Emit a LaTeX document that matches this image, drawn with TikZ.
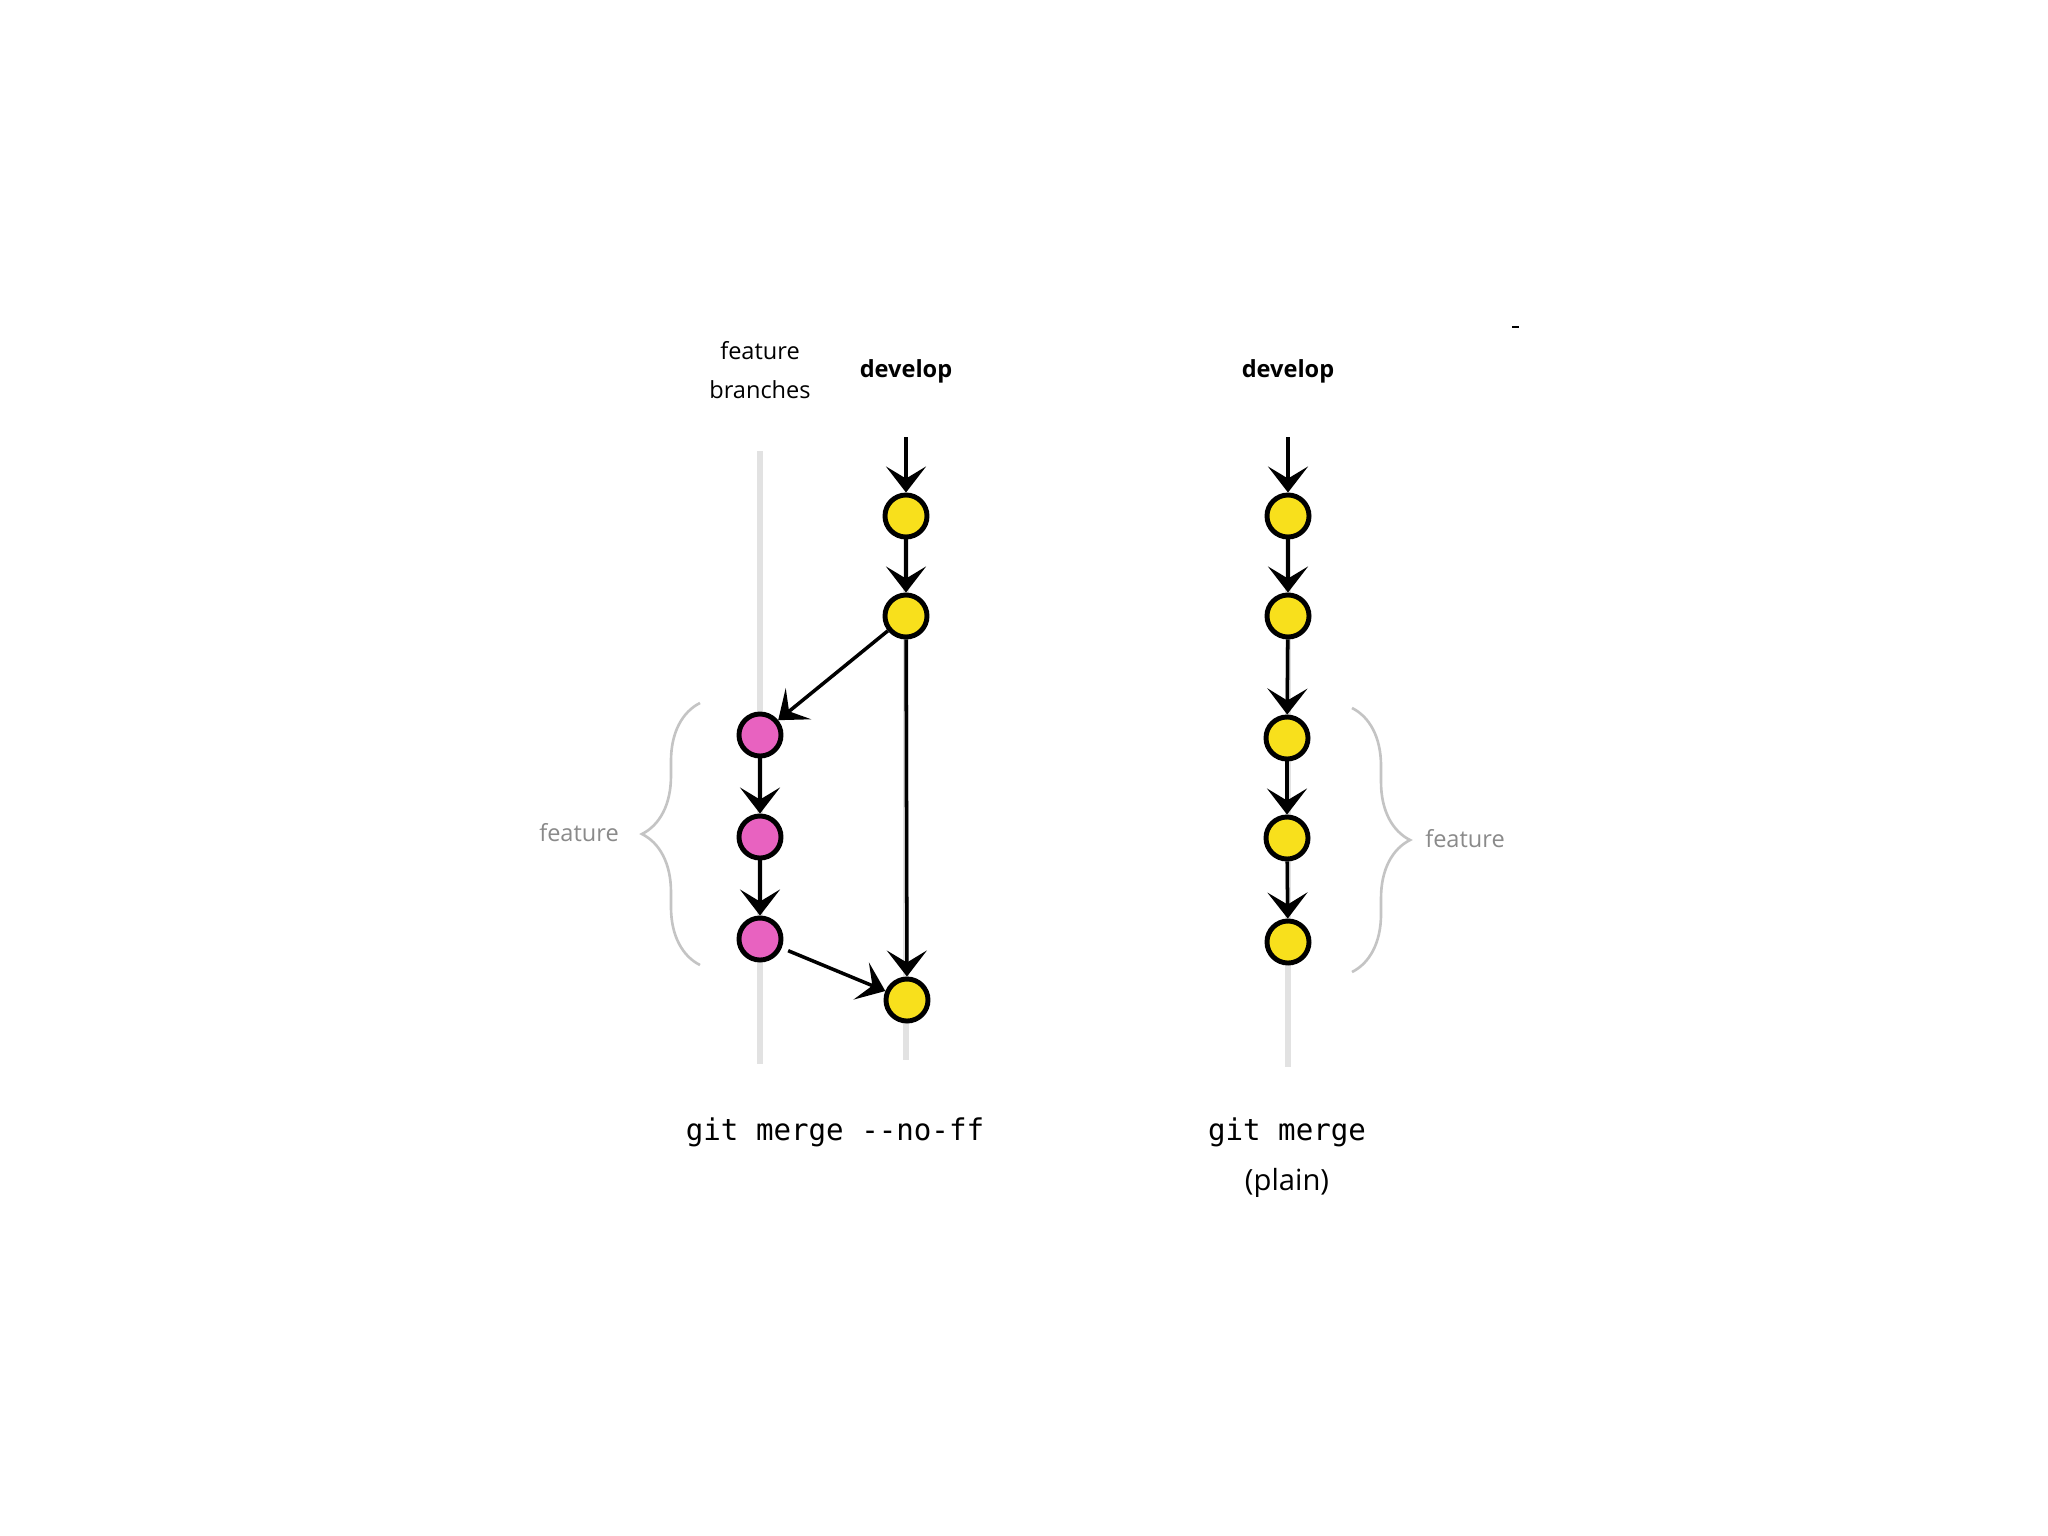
\documentclass[tikz,border=0pt]{standalone}
\usepackage{fontspec}
\setmainfont{Open Sans}
\newfontfamily\gitfont[FakeStretch=0.975]{DejaVu Sans Mono}
\usetikzlibrary{arrows.meta}
\usetikzlibrary{decorations.pathreplacing}
\usetikzlibrary{positioning}
\definecolor{commityellow}{HTML}{F8E01C}
\definecolor{commitpink}{HTML}{E862C0}
\definecolor{trunkgray}{HTML}{E2E2E2}
\definecolor{bracegray}{HTML}{C4C4C4}
\definecolor{labelgray}{HTML}{8A8A8A}

\begin{document}
\begin{tikzpicture}[
    x=0.01cm, y=-0.01cm,
    font=\fontsize{6.7}{11.1}\selectfont
]
\tikzset{
    mynode/.style = {circle, draw=black, line width=1.4pt, minimum size=0.42cm, inner sep=0pt, fill=commityellow},
    mynodep/.style = {mynode, fill=commitpink},
    edgec/.style = {-{Stealth[length=0.26cm,width=0.4cm,inset=0.12cm]}, line width=1pt},
    trunk/.style = {line width=1.6pt, draw=trunkgray},
    bracel/.style = {decorate, decoration={brace,amplitude=0.58cm}, draw=bracegray, line width=0.75pt},
    graylabel/.style = {text=labelgray},
    cmd/.style = {font=\gitfont\fontsize{8.5}{10}\selectfont}
}
\useasboundingbox (0,0) rectangle (2048,1536);
\coordinate (ft) at (760,451);
\coordinate (fb) at (760,1064);
\coordinate (dlt) at (906,516);
\coordinate (dlb) at (906,1060);
\coordinate (drt) at (1288,516);
\coordinate (drb) at (1288,1067);
\draw[trunk] (ft) -- (fb);
\draw[trunk] (dlt) -- (dlb);
\draw[trunk] (drt) -- (drb);
\node[align=center] at (760,370) (fbr) {feature\\branches};
\node at (906,371) (devl) {\bfseries develop};
\node at (1288,371) (devr) {\bfseries develop};
\coordinate (dl0) at (906,437);
\node[mynode] at (906,516) (dl1) {};
\node[mynode] at (906,616) (dl2) {};
\node[mynode] at (907,1000) (dl3) {};
\node[mynodep] at (760,735) (f1) {};
\node[mynodep] at (760,837) (f2) {};
\node[mynodep] at (760,939) (f3) {};
\draw[edgec] (dl0) -- (dl1);
\draw[edgec] (dl1) edge (dl2);
\draw[edgec] (dl2) edge (f1);
\draw[edgec] (f1) edge (f2);
\draw[edgec] (f2) edge (f3);
\draw[edgec] (dl2) edge (dl3);
\draw[edgec,shorten <=0.07cm] (f3) edge (dl3);
\coordinate (dr0) at (1288,437);
\node[mynode] at (1288,516) (dr1) {};
\node[mynode] at (1288,616) (dr2) {};
\node[mynode] at (1287,738) (dr3) {};
\node[mynode] at (1287,838) (dr4) {};
\node[mynode] at (1288,942) (dr5) {};
\draw[edgec] (dr0) -- (dr1);
\draw[edgec] (dr1) edge (dr2);
\draw[edgec] (dr2) edge (dr3);
\draw[edgec] (dr3) edge (dr4);
\draw[edgec] (dr4) edge (dr5);
\draw[bracel] (700,965) -- (700,703);
\draw[bracel] (1352,708) -- (1352,972);
\node[graylabel] at (579,833) (featl) {feature};
\node[graylabel] at (1465,839) (featr) {feature};
\node[cmd] at (835,1132) (cmdl) {git merge -\kern0pt-no-ff};
\node[cmd] at (1287,1132) (cmdr) {git merge};
\node[font=\fontsize{8.3}{10}\selectfont] at (1287,1183) (plainr) {(plain)};
\draw[line width=0.6pt] (1512,327) -- (1519,327);
\end{tikzpicture}
\end{document}
